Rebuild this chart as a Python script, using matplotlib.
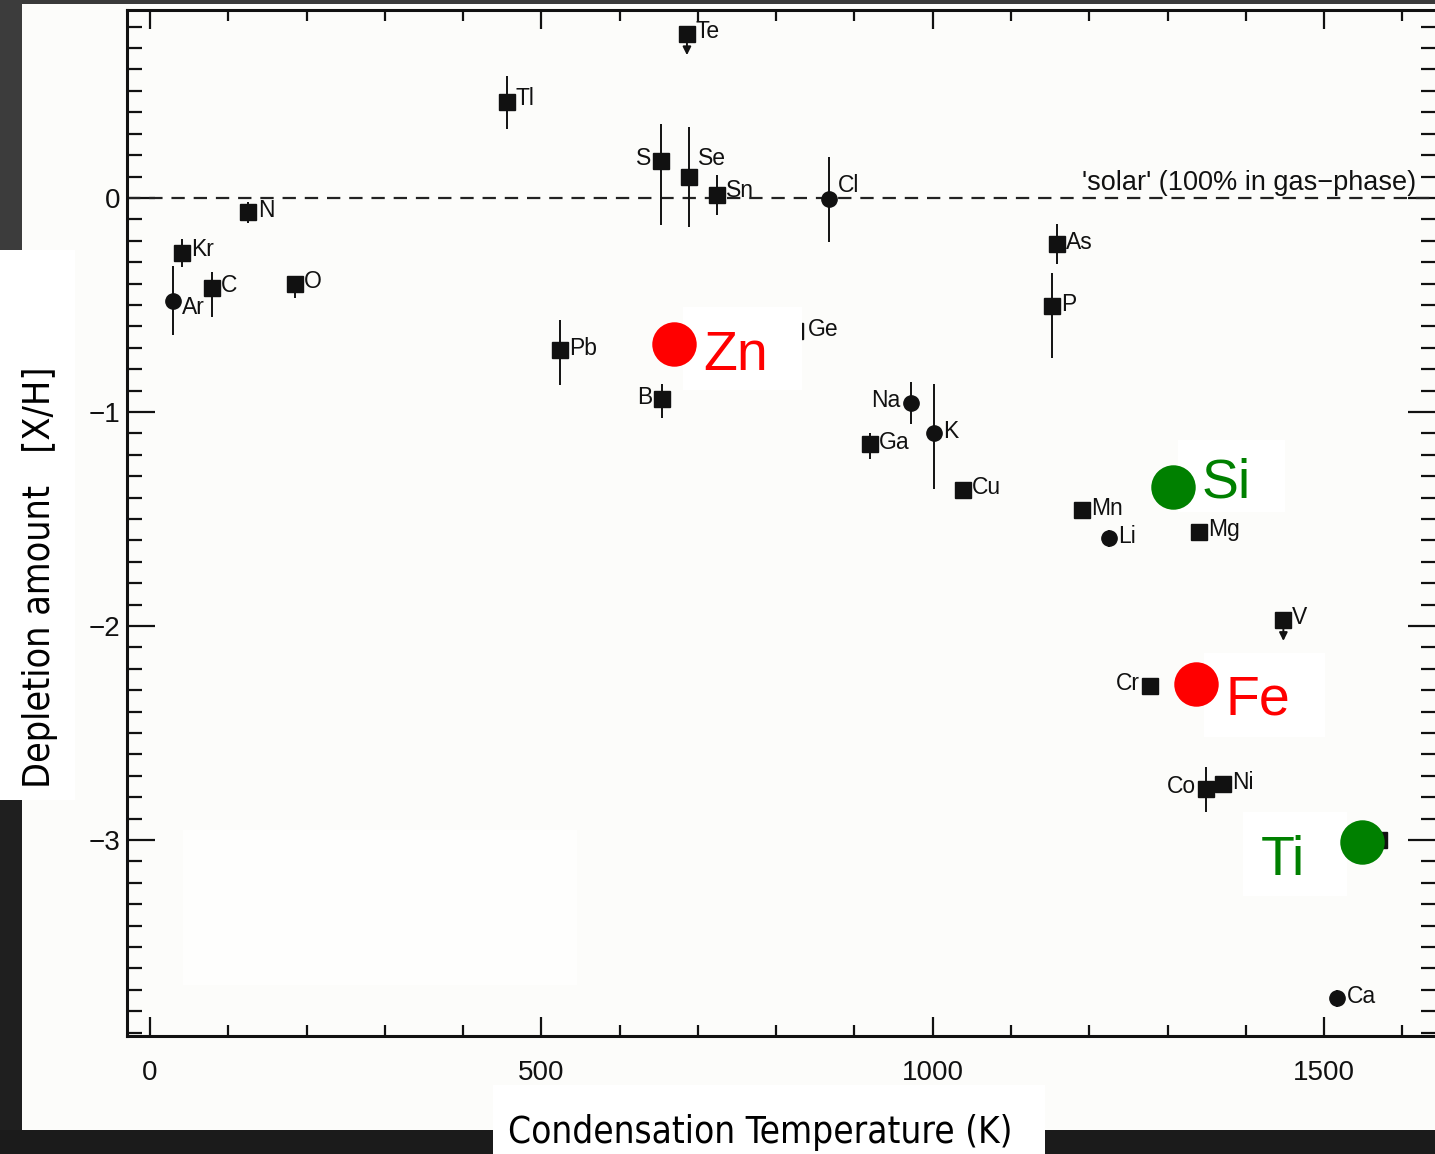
import matplotlib
matplotlib.use("Agg")
import matplotlib.pyplot as plt
from matplotlib.patches import Rectangle
from matplotlib.ticker import MultipleLocator, FixedLocator
from matplotlib import transforms

W, H, DPI = 1435, 1154, 100

# ---------------------------------------------------------------- data
names = ["Ar", "Kr", "C", "N", "O", "Tl", "Pb", "B", "S", "Te", "Se", "Sn",
         "Ge", "Cl", "Ga", "Na", "K", "Cu", "P", "As", "Mn", "Li", "Cr",
         "Mg", "Co", "Ni", "V", "Ti", "Ca"]
temp_k = [29, 41, 79, 125, 185, 456, 524, 654, 653, 686, 689, 725,
          824, 867, 920, 972, 1002, 1039, 1152, 1159, 1191, 1225, 1277,
          1340, 1349, 1371, 1448, 1570, 1517]
depletion = [-0.48, -0.256, -0.42, -0.068, -0.40, 0.45, -0.712, -0.94, 0.173,
             0.767, 0.099, 0.015, -0.62, -0.006, -1.15, -0.958, -1.10, -1.363,
             -0.507, -0.217, -1.46, -1.59, -2.28, -1.56, -2.76, -2.74, -1.97,
             -3.0, -3.74]
err_hi = [0.16, 0.065, 0.075, 0.05, 0.03, 0.12, 0.14, 0.07, 0.173, 0.0, 0.23,
          0.09, 0.04, 0.196, 0.05, 0.10, 0.23, 0.0, 0.154, 0.093, 0.0, 0.04,
          0.0, 0.0, 0.10, 0.0, 0.0, 0.0, 0.04]
err_lo = [0.16, 0.065, 0.135, 0.05, 0.07, 0.126, 0.16, 0.09, 0.30, 0.0, 0.234,
          0.093, 0.04, 0.20, 0.07, 0.10, 0.26, 0.0, 0.243, 0.093, 0.0, 0.04,
          0.0, 0.0, 0.11, 0.0, 0.0, 0.0, 0.04]
kind = ["circle", "square", "square", "square", "square", "square", "square",
        "square", "square", "square", "square", "square", "square", "circle",
        "square", "circle", "circle", "square", "square", "square", "square",
        "circle", "square", "square", "square", "square", "square", "square",
        "circle"]
upper_limits = ["Te", "V"]
limit_arrow = 0.10

highlight_names = ["Zn", "Si", "Fe", "Ti"]
highlight_temp = [670, 1307, 1337, 1549]
highlight_depl = [-0.682, -1.35, -2.27, -3.01]
highlight_color = ["#ff0000", "#008000", "#ff0000", "#008000"]

x_ticks = [0, 500, 1000, 1500]
y_ticks = [0, -1, -2, -3]
solar_text = "'solar' (100% in gas\u2212phase)"
x_label = "Condensation Temperature (K)"
y_label = "Depletion amount   [X/H]"

# ---------------------------------------------------------------- layout
INK = "#111111"
PAGE = "#fcfcfa"
plt.rcParams["font.family"] = ["Liberation Sans", "DejaVu Sans"]

# label placement (pixel offsets from the marker)
label_left = {"S", "B", "Na", "Cr", "Co"}
label_shift = {"Se": (9, 18), "Cl": (9, 14), "Ar": (9, -7), "Sn": (9, 4),
               "Ge": (13, 1), "Kr": (9, 3), "Tl": (9, 3), "N": (10, 2)}
hl_text_offset = {"Zn": (29, -26, "left"), "Si": (29, -11, "left"),
                  "Fe": (29, -31, "left"), "Ti": (-57, -33, "right")}
# white panels behind the highlight labels: (x0, y0, w, h) in pixels
hl_panel = {"Zn": (9, -46, 119, 83), "Si": (5, -25, 107, 72),
            "Fe": (8, -53, 121, 84), "Ti": (-119, -54, 104, 84)}

fig = plt.figure(figsize=(W / DPI, H / DPI), dpi=DPI)
fig.patch.set_facecolor("#1b1b1b")


def px_rect(x0, y0, x1, y1, color, z=-20):
    """Rectangle in image pixel coordinates (y measured from the top)."""
    r = Rectangle((x0 / W, 1 - y1 / H), (x1 - x0) / W, (y1 - y0) / H,
                  transform=fig.transFigure, facecolor=color,
                  edgecolor="none", zorder=z)
    fig.add_artist(r)


px_rect(0, 0, W, 5, "#3a3a3a")
px_rect(0, 0, 22, 250, "#3c3c3c")
px_rect(0, 800, 22, 1130, "#1f1f1f")
px_rect(22, 4, W, 1130, PAGE, z=-15)
px_rect(183, 830, 577, 985, "#fefefd", z=-14)
px_rect(0, 250, 75, 800, "#ffffff", z=-13)
px_rect(493, 1085, 1045, H, "#ffffff", z=-13)

ax_l, ax_r, ax_t, ax_b = 127, 1436, 10, 1036
ax = fig.add_axes([ax_l / W, 1 - ax_b / H, (ax_r - ax_l) / W,
                   (ax_b - ax_t) / H])
ax.patch.set_visible(False)
ax.set_xlim(-29.4, 1643)
ax.set_ylim(-3.916, 0.878)

for s in ax.spines.values():
    s.set_linewidth(2.2)
    s.set_color(INK)

ax.xaxis.set_major_locator(FixedLocator(x_ticks))
ax.xaxis.set_minor_locator(MultipleLocator(100))
ax.yaxis.set_major_locator(FixedLocator(y_ticks))
ax.yaxis.set_minor_locator(MultipleLocator(0.1))
ax.tick_params(axis="both", which="both", direction="in", top=True,
               right=True, colors=INK, width=1.6, labelsize=20)
ax.tick_params(axis="x", which="major", length=14, pad=17)
ax.tick_params(axis="x", which="minor", length=8)
ax.tick_params(axis="y", which="major", length=20, pad=5)
ax.tick_params(axis="y", which="minor", length=11)

# 'solar' reference level
ax.axhline(0, color="#222222", lw=1.6, ls=(0, (6, 4)), zorder=2)
ax.annotate(solar_text, xy=(0.985, 0), xycoords=("axes fraction", "data"),
            xytext=(0, 8), textcoords="offset pixels", ha="right",
            va="baseline", fontsize=19.5, color=INK)

# measured depletions
for i, name in enumerate(names):
    T, v = temp_k[i], depletion[i]
    mk = "s" if kind[i] == "square" else "o"
    ax.errorbar(T, v, yerr=[[err_lo[i]], [err_hi[i]]], fmt=mk, ms=11,
                color=INK, mec=INK, elinewidth=1.4, capsize=0, zorder=3)
    if name in upper_limits:
        ax.annotate("", xy=(T, v - limit_arrow), xytext=(T, v),
                    arrowprops=dict(arrowstyle="-|>", color=INK, lw=1.4,
                                    mutation_scale=12, shrinkA=0, shrinkB=0),
                    zorder=3)
    if name == "Ti":
        continue
    if name in label_left:
        dx, dy, ha = -10, 2, "right"
    else:
        dx, dy = label_shift.get(name, (9, 2))
        ha = "left"
    ax.annotate(name, (T, v), xytext=(dx, dy), textcoords="offset pixels",
                ha=ha, va="center", fontsize=16.5, color=INK, zorder=3)

# highlighted elements
for name, T, v, c in zip(highlight_names, highlight_temp, highlight_depl,
                         highlight_color):
    anchor = transforms.ScaledTranslation(T, v, ax.transData)
    x0, y0, w, h = hl_panel[name]
    ax.add_patch(Rectangle((x0, y0), w, h, transform=anchor,
                           facecolor="#ffffff", edgecolor="none",
                           zorder=5, clip_on=False))
    ax.plot(T, v, "o", ms=32, color=c, mec="none", zorder=6)
    dx, dy, ha = hl_text_offset[name]
    ax.annotate(name, (T, v), xytext=(dx, dy), textcoords="offset pixels",
                ha=ha, va="baseline", fontsize=40, color=c, zorder=7)

# axis titles
fig.text(760 / W, 1 - 1143 / H, x_label, ha="center", va="baseline",
         fontsize=26.5, family="DejaVu Sans", fontstretch="condensed",
         color="#000000")
fig.text(40 / W, 1 - 577 / H, y_label, ha="center", va="center",
         rotation=90, fontsize=27, family="DejaVu Sans",
         fontstretch="condensed", color="#000000")

fig.savefig("out.png", dpi=DPI, facecolor=fig.get_facecolor())
